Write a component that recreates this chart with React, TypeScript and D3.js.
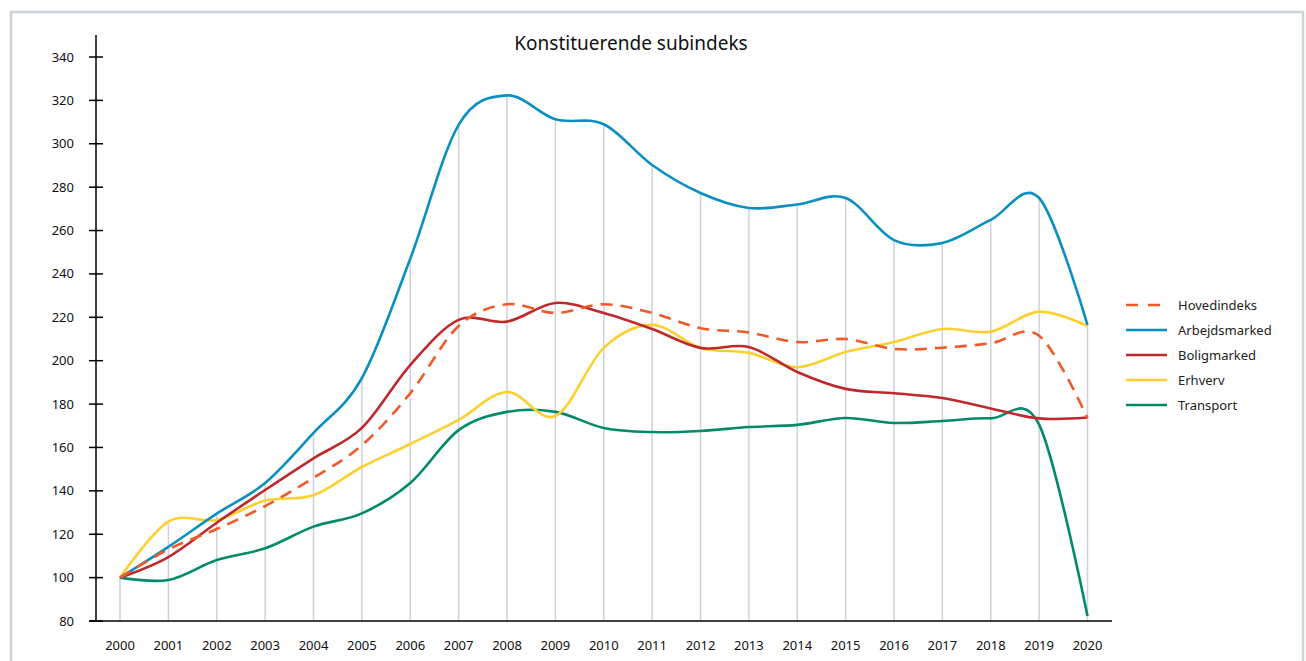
import React from "react";
import * as d3 from "d3";

const years = [2000, 2001, 2002, 2003, 2004, 2005, 2006, 2007, 2008, 2009, 2010, 2011, 2012, 2013, 2014, 2015, 2016, 2017, 2018, 2019, 2020];
const yTicks = [80, 100, 120, 140, 160, 180, 200, 220, 240, 260, 280, 300, 320, 340];

const hovedindeks = [100, 113, 122.4, 133, 146, 161, 185, 216, 226, 222, 226, 222, 215, 213, 208.6, 210, 205.4, 206, 208, 211.5, 173.6];
const arbejdsmarked = [100, 114.2, 129.5, 143.6, 166.7, 192, 247, 308.7, 322.3, 311.3, 309, 290.2, 277.3, 270.4, 272, 275, 255.6, 254.3, 264.9, 275, 216.5];
const boligmarked = [100, 109.5, 125.3, 140.4, 155, 169, 198, 218.8, 218, 226.6, 222, 214.6, 205.9, 206.3, 194.8, 187, 185, 182.8, 178, 173.4, 173.8];
const erhverv = [100, 125.8, 126.6, 135.5, 138, 151, 161.6, 172.7, 185.6, 174.5, 205.9, 216.5, 205.9, 203.6, 197, 204, 208.6, 214.6, 213.4, 222.6, 216];
const transport = [100, 98.9, 108.1, 113.5, 123.5, 129.6, 143.6, 168, 176.4, 176.4, 169, 167.1, 167.6, 169.4, 170.4, 173.6, 171.3, 172.2, 173.4, 170.5, 82.3];

const seriesNames = ["Hovedindeks", "Arbejdsmarked", "Boligmarked", "Erhverv", "Transport"];
const seriesValues = [hovedindeks, arbejdsmarked, boligmarked, erhverv, transport];
const seriesColors = ["#f05a28", "#0a8fc2", "#be2a2c", "#fdd02f", "#008a6a"];
const seriesDash = ["12,8", null, null, null, null];
const drawOrder = [4, 3, 2, 1, 0];

export default function App() {
  const x = d3.scaleLinear().domain([2000, 2020]).range([120, 1087.5]);
  const y = d3.scaleLinear().domain([80, 340]).range([621, 57]);
  const line = d3
    .line<number>()
    .x((_, i) => x(years[i]))
    .y((d) => y(d))
    .curve(d3.curveCatmullRom.alpha(0));

  const font = "'Noto Sans', 'Open Sans', sans-serif";
  const maxAt = years.map((_, i) => d3.max(seriesValues, (s) => s[i]) as number);

  return (
    <svg
      width={1306}
      height={661}
      style={{ position: "absolute", left: 0, top: 0, background: "#fff" }}
      fontFamily={font}
    >
      <rect x={11} y={12} width={1292} height={660} fill="none" stroke="#cfd4db" strokeWidth={2.5} />
      <text x={631} y={50} textAnchor="middle" fontSize={19} fill="#111">
        Konstituerende subindeks
      </text>
      {years.map((yr, i) => (
        <line key={"g" + yr} x1={x(yr)} x2={x(yr)} y1={621} y2={y(maxAt[i])} stroke="#cdd2da" strokeWidth={1.5} />
      ))}
      <line x1={96} x2={96} y1={35} y2={621} stroke="#000" strokeWidth={1.5} />
      <line x1={89} x2={1112} y1={621} y2={621} stroke="#000" strokeWidth={1.5} />
      {yTicks.map((t) => (
        <g key={"yt" + t}>
          <line x1={89} x2={103} y1={y(t)} y2={y(t)} stroke="#000" strokeWidth={1.5} />
          <text x={74} y={y(t)} dy="0.35em" textAnchor="end" fontSize={13} fill="#111">
            {t}
          </text>
        </g>
      ))}
      {years.map((yr) => (
        <text key={"xt" + yr} x={x(yr)} y={645} dy="0.35em" textAnchor="middle" fontSize={13} fill="#111">
          {yr}
        </text>
      ))}
      {drawOrder.map((k) => (
        <path
          key={"s" + k}
          d={line(seriesValues[k]) || ""}
          fill="none"
          stroke={seriesColors[k]}
          strokeWidth={2.6}
          strokeDasharray={seriesDash[k] || undefined}
        />
      ))}
      {seriesNames.map((n, k) => (
        <g key={"lg" + k} transform={`translate(0, ${305 + k * 25})`}>
          <line x1={1126} x2={1167} y1={0} y2={0} stroke={seriesColors[k]} strokeWidth={2.6} strokeDasharray={k === 0 ? "12,10" : undefined} />
          <text x={1178} y={0} dy="0.35em" fontSize={13} fill="#222">
            {n}
          </text>
        </g>
      ))}
    </svg>
  );
}
